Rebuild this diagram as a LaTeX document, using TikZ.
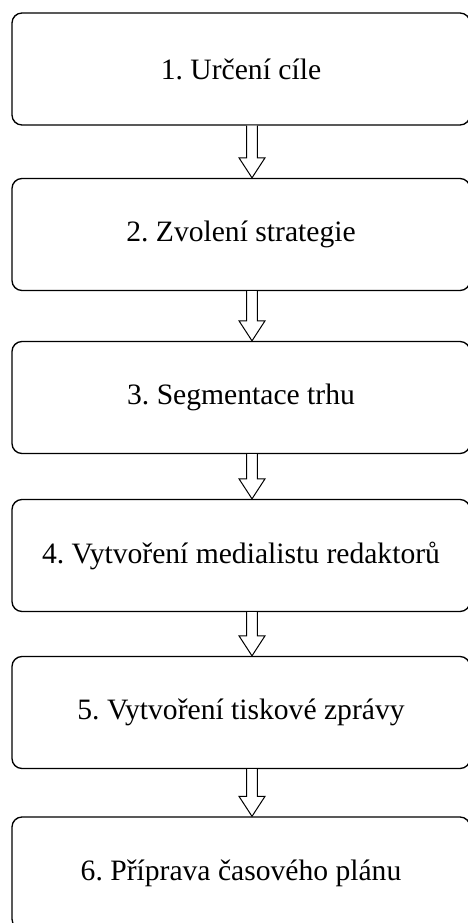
\documentclass[tikz,border=0pt]{standalone}
\usepackage{fontspec}
\setmainfont{Liberation Serif}
\usetikzlibrary{positioning,calc}
\frenchspacing
\tikzset{
  stage/.style={draw,line width=1pt,rounded corners=7.5pt,minimum width=343.5pt,minimum height=84pt,inner sep=0pt,font=\fontsize{22.2}{26}\selectfont},
  hollow/.style={draw,line width=0.75pt,fill=white,line join=miter},
}
% hollow block arrow from the bottom of one stage to the top of the next
\newcommand{\stagearrow}[2]{%
  \draw[hollow] let \p1=($(#1.south)+(11,0)$), \p2=($(#2.north)+(11,0)$) in
    (\x1-4.1pt,\y1) -- (\x1-4.1pt,\y2+15pt) -- (\x1-9.75pt,\y2+15pt) -- (\x2,\y2)
    -- (\x1+9.75pt,\y2+15pt) -- (\x1+4.1pt,\y2+15pt) -- (\x1+4.1pt,\y1);}

\begin{document}
\begin{tikzpicture}[x=0.75pt,y=-0.75pt]
\useasboundingbox (0,0) rectangle (467,923);
% the six stages
\node[stage] (goal) at (241,69) {1. Určení cíle};
\node[stage] (strategy) at (241,234.5) {2. Zvolení strategie};
\node[stage] (segment) at (241,397.5) {3. Segmentace trhu};
\node[stage] (medialist) at (241,555.5) {4. Vytvoření medialistu redaktorů};
\node[stage] (release) at (241,712.5) {5. Vytvoření tiskové zprávy};
\node[stage] (timeline) at (241,873) {6. Příprava časového plánu};
% arrows between them
\stagearrow{goal}{strategy}
\stagearrow{strategy}{segment}
\stagearrow{segment}{medialist}
\stagearrow{medialist}{release}
\stagearrow{release}{timeline}
\end{tikzpicture}
\end{document}
